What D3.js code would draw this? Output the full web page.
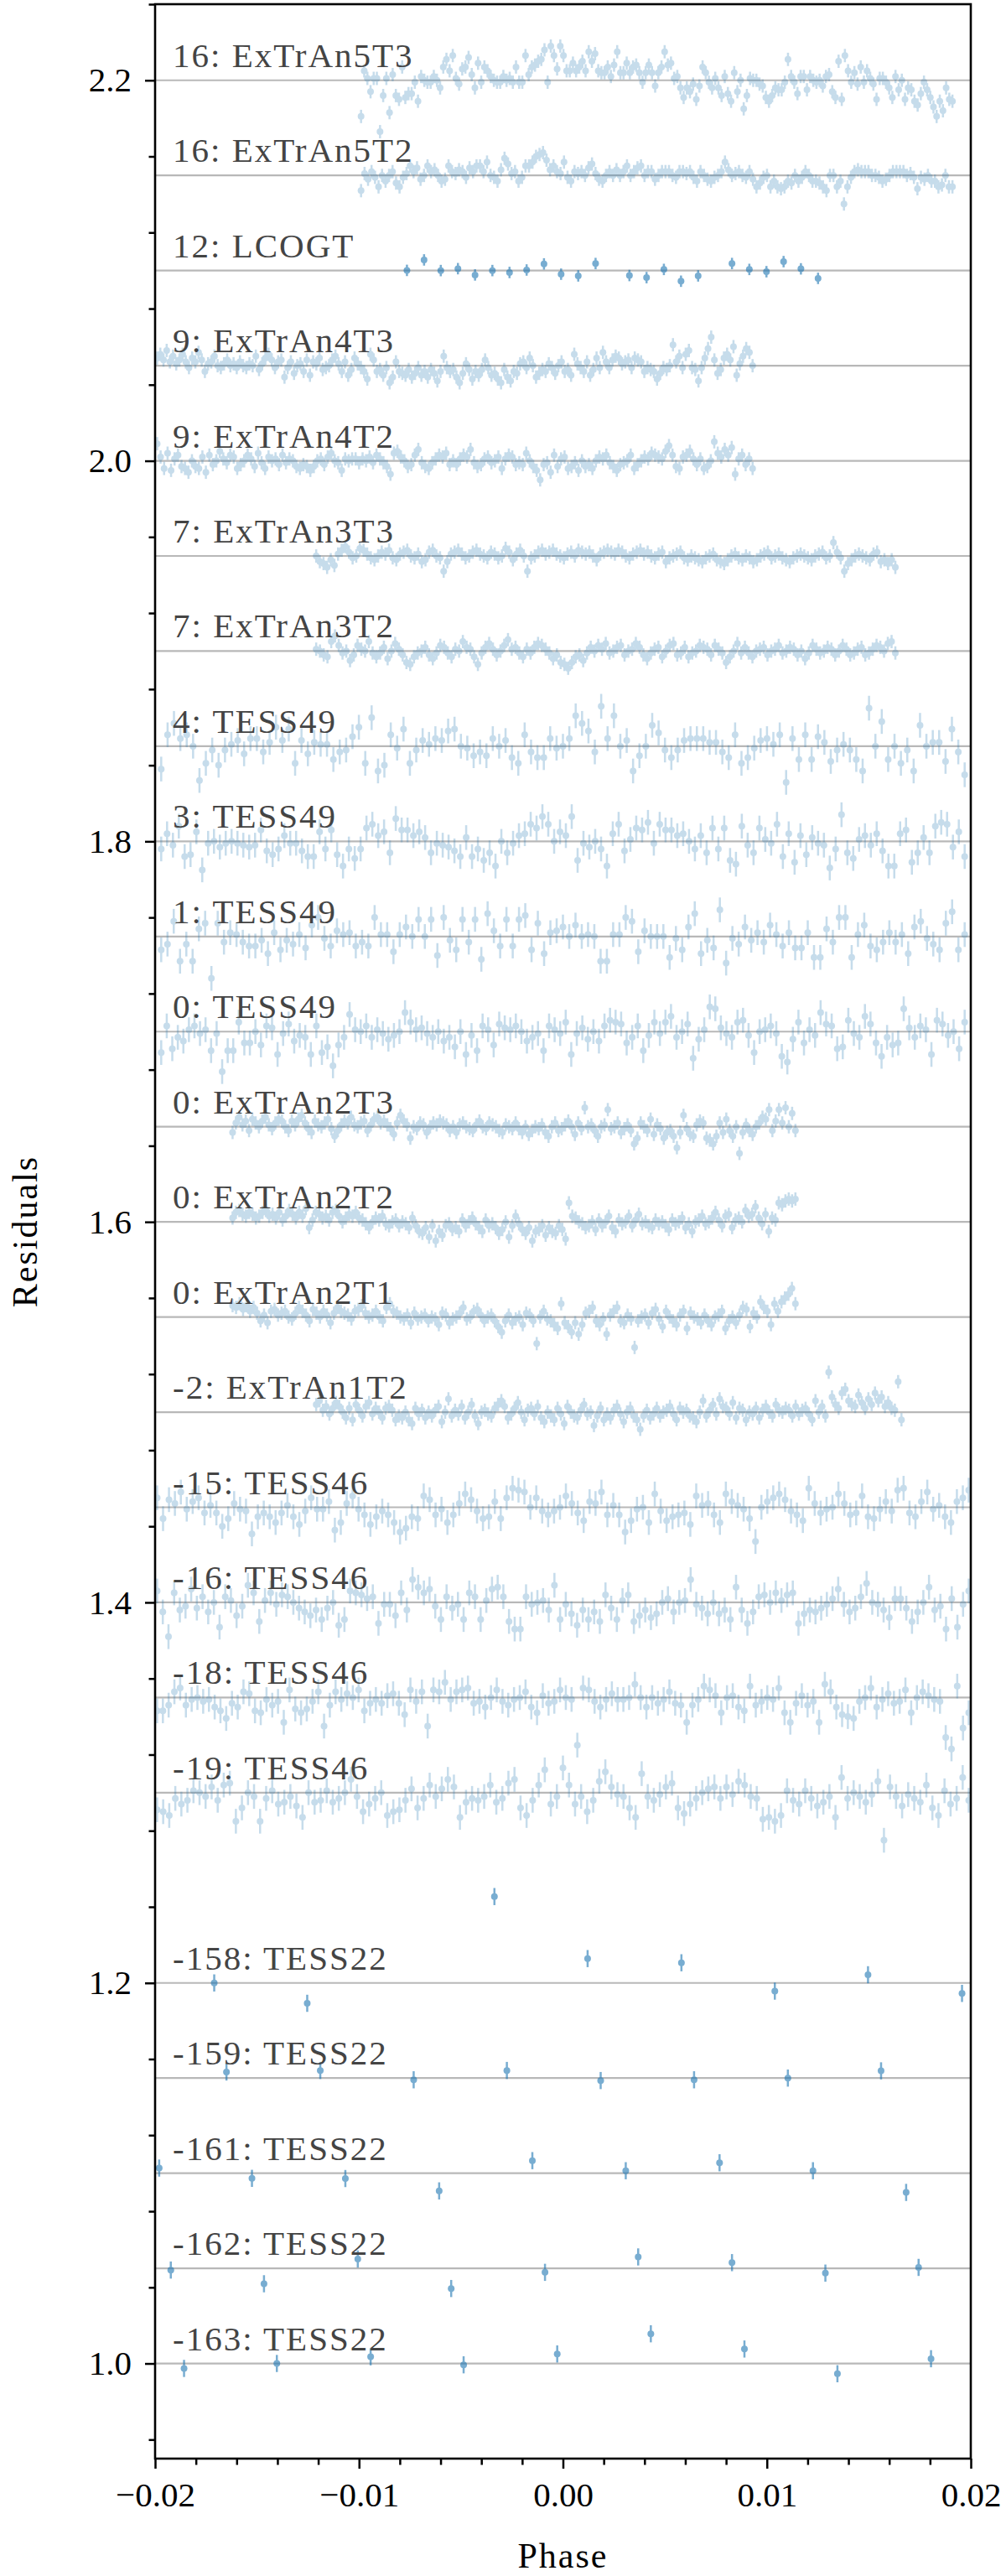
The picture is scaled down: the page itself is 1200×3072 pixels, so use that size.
<!DOCTYPE html>
<html>
<head>
<meta charset="utf-8">
<style>
body { margin: 0; background: #fff; }
</style>
</head>
<body>
<svg width="1200" height="3072"></svg>
<script src="https://cdn.jsdelivr.net/npm/d3@7"></script>
<script>
// one row per light curve, top to bottom; residuals are in units of 1e-3
var seriesLabels = [
  "16: ExTrAn5T3", "16: ExTrAn5T2", "12: LCOGT", "9: ExTrAn4T3", "9: ExTrAn4T2",
  "7: ExTrAn3T3", "7: ExTrAn3T2", "4: TESS49", "3: TESS49", "1: TESS49", "0: TESS49",
  "0: ExTrAn2T3", "0: ExTrAn2T2", "0: ExTrAn2T1", "-2: ExTrAn1T2",
  "-15: TESS46", "-16: TESS46", "-18: TESS46", "-19: TESS46",
  "-158: TESS22", "-159: TESS22", "-161: TESS22", "-162: TESS22", "-163: TESS22"
];
var seriesOffsets = [2.20, 2.15, 2.10, 2.05, 2.00, 1.95, 1.90, 1.85, 1.80, 1.75, 1.70,
  1.65, 1.60, 1.55, 1.50, 1.45, 1.40, 1.35, 1.30, 1.20, 1.15, 1.10, 1.05, 1.00];
// first and last phase of the evenly sampled light curves (null = phases listed below)
var seriesSpans = [[-0.0099, 0.0191], [-0.0099, 0.0191], null, [-0.0199, 0.0093], [-0.0199, 0.0093],
  [-0.0121, 0.0163], [-0.0121, 0.0163], [-0.0197, 0.0197], [-0.0197, 0.0197], [-0.0197, 0.0197], [-0.0197, 0.0197],
  [-0.0162, 0.0114], [-0.0162, 0.0114], [-0.0162, 0.0114], [-0.0121, 0.0166],
  [-0.0199, 0.0199], [-0.0199, 0.0199], [-0.0199, 0.0199], [-0.0199, 0.0199],
  null, null, null, null, null];
var seriesErrors = [3.5, 3.5, 3, 3.5, 3.5, 3.5, 3.5, 6.5, 6.5, 6.5, 6.5,
  3.5, 3.5, 3.5, 3.5, 6.5, 6.5, 6.5, 6.5, 4.5, 4.5, 4.5, 4.5, 4.5];

var resExTrAn5T3 = [-19,5,1,-6,1,1,-27,-8,1,-17,3,-8,-10,7,-9,-7,-7,-1,-11,2,0,-1,-1,2,0,-4,7,11,5,13,1,-2,6,7,12,3,-4,9,-1,7,5,2,0,-1,-1,2,0,1,-1,7,-1,-1,13,3,7,8,10,11,16,-1,18,13,6,18,13,5,5,9,5,7,10,5,15,10,14,5,4,4,7,2,8,15,4,4,9,4,7,8,4,-1,4,8,4,-3,4,7,15,8,9,1,2,-4,-9,-4,-6,-2,-10,-3,7,4,-1,-4,1,-4,-8,2,-7,-11,4,-6,0,-15,-8,1,0,0,-2,-3,-9,-11,-8,-4,-5,-5,-1,11,2,-1,-7,2,2,-5,2,0,-1,0,-3,2,3,-6,-9,10,-10,13,5,-1,4,-2,7,-1,5,1,-2,-10,1,1,-1,-4,-9,2,-5,0,-10,-4,-5,-11,-13,-7,-1,-5,-9,-14,-19,-11,-16,-4,-10,-11];
var resExTrAn5T2 = [-8,1,-2,2,-1,-6,0,-3,0,2,-4,-6,-1,1,5,2,4,-2,0,5,2,3,0,-3,-2,5,2,1,3,2,-1,4,2,5,5,2,7,0,-1,-3,3,9,6,1,2,-3,-1,5,5,7,10,11,12,8,3,5,2,1,7,-1,-3,2,1,2,0,4,6,1,-2,-3,0,2,0,3,0,2,5,0,2,4,5,0,2,2,-2,0,2,2,2,0,-1,2,2,1,2,-1,-3,2,0,-2,-3,-1,0,2,7,3,0,1,2,0,-1,2,-2,-6,-4,-1,0,-6,-3,-6,-7,-6,-3,-4,0,-3,-1,2,0,-3,-3,-4,-6,-8,0,0,-6,-3,-15,-6,-1,2,3,2,2,2,0,0,-1,-3,-2,0,2,2,2,2,0,1,-1,-7,-1,-2,0,-3,-3,-6,-5,0,-6,-6];
var resExTrAn4T3 = [4,6,3,8,2,5,1,3,6,2,-1,4,2,7,3,-3,1,2,5,0,-1,1,3,0,1,-1,2,0,-1,1,0,5,-2,1,4,6,3,-1,2,3,-6,-1,2,-4,0,1,-3,3,-5,2,1,4,-2,-1,0,3,5,1,-3,2,-5,-2,4,1,-1,-3,-7,6,3,-3,-2,-5,-1,-9,-6,2,-3,-4,-5,-2,-6,-4,-1,-5,-3,-6,-2,-4,-8,-3,5,-1,-3,-2,-6,-9,-4,1,-2,-7,-3,-5,-2,3,-1,-5,-4,-7,-9,-2,-6,-8,-3,-4,1,2,-1,4,0,-6,-4,-2,-3,1,-1,-4,0,2,-3,-2,-5,6,1,-1,-3,2,-5,-2,4,-1,7,2,-1,3,5,4,1,2,3,-1,4,3,2,-3,-1,-2,-3,-7,-4,-1,-2,0,11,2,5,-1,6,8,-1,-2,-8,-1,4,9,15,3,-4,-2,4,6,3,10,-5,1,5,9,7,0];
var resExTrAn4T2 = [9,2,-4,4,-5,1,3,-3,-4,-6,0,-3,-4,2,-6,3,-2,0,5,1,-1,3,2,-4,-2,0,3,1,-3,4,-1,-4,2,0,1,-2,3,-1,1,0,-3,-4,-2,-3,-5,-3,0,1,-2,2,4,0,-1,-5,1,0,1,1,-1,1,0,2,-1,3,1,-1,-3,-7,4,5,2,0,-3,-2,3,6,-1,-3,-4,-1,1,3,2,4,-2,0,-2,1,3,2,6,-1,-3,-2,1,2,-1,0,2,-4,1,3,2,-2,-1,-2,4,0,-3,-5,-10,-2,-1,-6,3,-3,1,2,-4,-3,-1,-5,0,-3,-2,-4,0,2,1,3,-1,-3,-5,-2,-1,0,3,-4,-2,0,2,1,4,3,2,1,5,8,3,-3,-4,2,3,5,1,-2,1,-4,-3,0,10,4,2,6,3,7,-7,1,3,-2,1,-4];
var resExTrAn3T3 = [0,-3,-4,-6,-2,-5,1,3,5,2,-1,0,4,3,1,-1,-2,0,2,1,3,-1,-2,1,2,3,0,-1,1,-3,-2,2,3,0,-1,-8,-3,1,2,3,1,-1,0,2,3,1,0,-1,2,1,-1,0,4,2,-2,1,3,0,-8,-1,0,2,3,1,2,3,1,0,-1,1,2,0,3,2,1,2,0,-2,1,2,3,2,1,3,2,0,-1,1,2,3,1,2,0,-1,1,2,-3,-1,0,1,2,-1,-2,0,-1,-2,-3,-1,0,1,-2,-3,-4,-2,0,1,-1,-2,0,-1,-3,-2,0,1,2,-1,0,1,-1,-2,-3,-1,0,1,0,-1,-2,0,1,2,-1,0,7,2,-1,-8,-4,-2,0,1,0,-1,-2,1,2,-3,-2,-4,-2,-6];
var resExTrAn3T2 = [1,0,-2,-3,5,8,3,-1,0,-5,-2,3,1,0,5,-1,-3,-1,2,-4,0,4,1,-2,-6,-7,-3,-1,0,2,-2,-4,-1,3,2,-1,-3,1,0,5,2,1,-3,-7,-1,2,4,1,-2,0,3,6,1,2,-1,-3,1,-1,2,4,3,1,-1,-4,-2,-6,-7,-9,-6,-3,-2,-5,-1,2,0,3,1,4,-1,0,2,3,-2,0,1,4,2,-2,-4,-1,1,2,-3,0,3,4,-2,-1,2,-3,-1,0,3,2,1,-2,3,1,-1,-6,-3,0,4,-1,2,-1,-3,0,1,2,-2,0,1,3,-1,0,2,1,-2,0,-4,-1,3,1,-1,0,2,1,-2,0,3,1,-2,-1,1,2,-2,-1,1,3,2,0,4,5,-1];
var resTess49e4 = [-12,6,12,4,6,0,-18,-9,-2,-10,-2,1,3,-4,4,4,-3,2,10,3,9,-9,3,-4,2,1,1,-7,-3,-2,5,10,-9,15,-13,-10,6,-1,9,-9,-2,3,1,4,3,8,9,0,-1,-5,-3,-5,4,0,3,-6,-9,6,-3,-6,-6,4,-1,0,4,16,12,8,-3,21,4,16,0,3,-13,-5,0,11,7,-2,-6,-2,3,4,4,4,2,2,-3,-6,6,-9,-6,-1,3,4,1,6,-19,4,-7,6,-7,5,2,-8,-2,1,-2,-7,-13,20,0,13,-7,0,-9,-2,-13,11,0,2,2,-8,9,-3,-15];
var resTess49e3 = [-4,4,-2,8,-8,-7,5,-15,-1,0,-3,-1,0,-1,-2,-3,-2,6,-5,-7,-4,3,-1,-1,-5,-8,-8,5,-4,6,-7,-13,-4,-9,-4,7,9,3,5,-6,12,6,6,3,5,2,-6,-1,-2,-3,-5,-8,2,-8,-4,-10,-6,-13,0,-6,-1,3,4,9,7,13,9,0,5,3,13,-10,-1,-3,0,-4,-13,4,9,-5,1,7,6,10,-1,9,6,6,3,4,0,-4,3,-6,7,-4,7,-10,-12,8,-2,-6,7,1,-1,9,-8,4,-11,3,-7,2,-1,-2,-14,-4,14,-6,-9,1,3,-2,4,-5,-13,-13,4,6,-11,-6,2,-6,8,10,9,-3,5,-8];
var resTess49e1 = [-7,-4,8,-13,-4,-13,4,7,-22,7,-3,2,1,-3,-5,-5,-2,-9,2,-7,-2,-4,1,-6,6,10,-1,-5,3,1,2,-5,-3,-5,10,1,1,-8,1,5,0,9,0,9,-10,10,-2,-7,9,-3,9,-12,12,3,-5,9,-5,9,11,-7,7,-9,2,3,5,0,6,0,1,0,-13,-13,1,1,10,8,-8,3,0,0,0,-11,-1,-7,5,12,-9,-2,-6,14,-14,-1,-4,5,-2,2,-3,6,1,-5,2,-6,-6,2,-11,-11,4,-3,10,10,-11,1,6,-5,-7,-3,2,-3,1,-9,5,8,-1,-4,-7,7,13,-7,1];
var resTess49e0 = [-11,3,-9,-3,-5,1,3,-1,1,-10,-1,-21,-10,-10,5,-6,-6,0,-7,3,2,-12,-1,4,-5,-2,-3,-12,3,-11,-8,-18,-7,-3,9,1,0,3,-3,1,-1,-4,-2,0,10,5,1,2,-1,-3,0,-5,-3,-8,0,-12,-2,-10,3,1,-7,4,2,1,3,0,-5,-3,-1,-10,3,1,-1,5,-12,-1,2,-4,0,-5,3,6,5,4,-6,-3,3,-10,-2,5,-1,5,8,-3,0,4,-14,-4,1,13,12,2,-1,-3,5,6,-2,-11,0,1,3,-1,-13,-16,-4,5,-6,1,-2,10,4,3,-9,-8,6,-1,-3,8,4,-6,-13,-3,-7,-6,12,2,-3,3,1,-12,6,4,-2,0,-9,5];
var resExTrAn2T3 = [-3,2,5,1,3,-2,4,2,0,3,5,1,-1,2,4,3,0,-2,3,1,4,6,2,-1,-3,3,1,0,2,4,-1,-5,-2,1,3,2,5,1,0,2,3,-2,1,4,5,2,3,1,-1,-4,2,6,3,1,-6,0,-1,2,1,-3,0,2,1,3,2,1,-2,0,-3,1,2,0,-1,-2,1,3,0,-1,2,1,0,-2,-3,1,0,-1,2,-1,-3,0,-4,-2,0,-1,1,-3,-5,0,2,-2,-1,1,3,0,-4,2,-1,10,0,1,-2,-5,0,1,9,-1,0,2,-3,-1,1,-2,-9,-6,2,0,-2,4,-4,1,-1,-6,-3,-2,-5,-11,-3,6,-1,-4,-5,1,3,2,-6,-7,-9,-5,2,-3,4,-2,-5,0,-14,-3,1,-2,-4,0,2,5,4,9,-2,3,9,2,10,0,7,-2];
var resExTrAn2T2 = [2,5,6,4,3,5,4,2,3,5,6,3,4,2,5,1,3,6,4,2,5,3,7,-3,1,5,4,2,3,1,5,6,3,0,2,4,3,5,2,1,-1,-3,0,2,1,3,-1,-2,0,1,-2,0,-1,-3,2,-2,-5,-6,-3,-8,-2,-10,-5,-7,-2,-1,-4,-3,-5,1,-2,0,2,-1,-3,-5,1,-2,-1,-3,-6,-4,0,-8,-2,3,-1,-4,-6,-3,-10,-5,-4,-2,-7,-3,-5,-6,-2,-4,-9,10,3,2,0,-1,-3,-2,0,-4,1,-2,0,3,-3,-5,1,-1,0,3,-2,1,4,-1,0,-2,-3,1,-1,0,-2,-4,1,-1,0,2,-3,-1,-5,0,1,3,-1,0,2,5,1,-2,3,4,-3,1,2,0,6,3,4,8,2,-1,4,-5,2,1,10,9,11,12,11,12];
var resExTrAn2T1 = [6,5,7,4,6,3,5,2,-2,1,-3,3,4,1,2,3,0,-1,2,5,3,1,-2,4,2,0,3,1,-3,2,5,3,2,1,-1,3,4,6,2,0,1,3,0,-2,5,7,3,2,0,-1,1,-3,2,-1,0,1,-2,0,-1,-4,2,1,-3,-1,0,2,5,-1,0,3,4,1,-2,0,1,-2,-5,-8,-2,1,-3,-1,0,-4,2,1,-2,-14,0,3,-1,-2,-4,-6,7,-3,-5,-8,-3,-9,-4,2,3,5,-2,-4,-1,-9,1,3,5,-2,-3,1,-1,-16,-2,0,1,-3,2,4,-1,-5,3,0,-2,-4,1,3,-6,2,0,-1,-3,1,-2,-4,0,1,3,-6,-2,0,-3,1,5,4,-5,2,0,8,5,3,-4,7,3,8,10,12,15,7];
var resExTrAn1T2 = [4,6,1,3,-1,2,5,3,0,-3,2,-4,4,1,-2,3,5,-1,2,0,-3,2,3,1,-4,-2,-3,0,-4,-6,2,-1,1,-3,0,-2,1,3,-5,0,7,-2,1,-1,3,-3,0,4,-2,-6,0,1,-1,-2,2,4,6,3,-3,-1,2,5,0,-4,1,2,-1,3,-3,-5,0,-2,-4,2,-1,-6,3,0,-2,-3,1,4,-1,0,-7,-2,2,-4,-1,-3,1,3,-1,-5,0,2,-2,-4,-9,-2,1,-3,-1,2,-2,0,1,3,-1,-4,2,0,1,-2,-3,-5,0,6,-2,1,4,-1,7,3,2,-1,5,-3,2,1,-4,0,-1,2,-3,1,3,0,-2,4,1,0,2,1,-2,3,-1,1,2,-1,-4,6,0,3,-2,21,8,4,2,10,12,6,4,3,9,5,2,7,4,10,6,8,3,5,2,1,16,-4];
var resTess46e15 = [5,-6,4,2,8,-1,3,5,-3,1,-3,-10,-6,2,-1,-2,-14,-5,-3,-5,-8,-3,1,-5,-9,-2,5,-1,-1,3,-12,-8,2,6,-1,-4,-9,-5,-2,-4,-8,-13,-11,-5,-6,6,4,-4,-1,-8,-4,2,7,4,-2,-6,-5,3,-6,5,10,9,8,0,5,-2,-4,-2,0,6,2,-3,-7,3,2,8,-4,1,-4,-13,-7,-1,0,-8,7,-2,-7,-5,-4,-3,-9,6,1,2,-4,-8,7,3,1,-1,-6,-18,0,3,5,7,4,-2,-4,-7,10,2,-3,-1,0,7,2,-4,-3,6,-5,-6,-1,3,-2,9,10,-3,-5,3,8,-1,1,-5,-8,3,5,9];
var resTess46e16 = [6,-5,-18,5,-4,-2,7,-3,3,-5,0,-13,3,1,-7,-2,9,5,-10,1,5,-1,4,3,0,-3,-5,-7,-4,-9,-3,0,-12,-9,6,5,4,2,3,-11,-1,-1,-7,5,-4,12,8,5,7,-2,-9,3,-3,-1,-9,5,3,-9,1,7,8,3,-10,-14,-14,3,-1,0,1,-4,9,-9,-1,-6,-12,-4,-9,-5,-10,4,-3,-9,1,4,-10,-7,-4,-8,-6,0,2,-5,0,1,12,-1,-3,-6,0,-6,-4,-9,8,-4,-11,-5,3,4,0,5,1,4,5,-11,-6,-4,-5,-3,-1,2,7,-1,-5,-3,3,10,0,-1,-4,-8,2,2,-3,-10,-5,0,8,-4,-2,-14,2,-13,-1,6];
var resTess46e18 = [-7,-7,-4,3,5,-4,-1,0,-2,-1,-5,-7,-11,-3,-5,3,2,-7,-8,-1,-4,-2,-13,4,-6,-8,-6,-2,3,-15,-4,3,-1,2,0,4,-7,-3,-1,-3,1,2,-3,-9,4,-2,3,-15,4,3,8,-1,3,4,5,-3,-2,-5,0,4,-2,-4,-1,0,3,-5,-8,1,-3,-2,4,0,-1,-25,5,4,-2,-5,-1,2,-1,-1,0,7,0,-5,0,-3,-1,3,-3,-4,-13,-4,-1,6,4,1,-8,0,1,-5,-7,6,-4,-2,0,-1,5,-8,-13,-3,1,-4,-2,-13,7,3,-5,-9,-10,-11,-2,0,5,-5,-1,2,-3,-2,4,-8,0,3,1,-1,-2,-21,-27,6,-16,-8];
var resTess46e19 = [-9,-10,-12,-3,-6,-4,1,0,-2,3,-4,4,5,-15,-8,0,-2,-15,-3,1,-6,-5,-2,-7,-13,0,-5,-4,1,-5,-3,0,7,-2,-10,-6,-3,0,-12,-10,-9,-4,2,-8,-3,4,-2,2,7,3,-13,-5,-3,-4,-2,4,-5,-3,5,7,-8,-12,-4,4,12,-6,-2,13,4,-6,-2,-10,-4,6,11,3,-1,-2,-8,-13,10,-2,-4,-1,3,5,-8,-11,-6,-3,0,2,3,-3,3,-1,6,4,-2,-3,-14,-13,-15,-12,1,-4,-6,1,-3,-7,-5,-2,-13,8,-3,0,-2,-5,-1,6,-25,3,-2,-7,-1,-3,-5,4,-8,-12,1,-6,-3,8,-4];

var lcogtPhase = [-0.00765,-0.00681,-0.00599,-0.00515,-0.00431,-0.00346,-0.00262,-0.00178,-0.00093,-0.00009,0.00075,0.00160,0.00326,0.00410,0.00495,0.00579,0.00663,0.00829,0.00914,0.00998,0.01082,0.01167,0.01251];
var lcogtRes = [0.1,5.6,0,1.0,-2.3,0,-1.0,0.3,3.5,-1.9,-2.8,3.7,-2.6,-3.7,0.6,-5.6,-2.8,3.7,0.6,-0.6,4.7,0.9,-4.1];
var tess22e158Phase = [-0.0171,-0.01254,-0.00336,0.00121,0.00581,0.01039,0.01496,0.01957];
var tess22e158Res = [0,-10.7,45.4,12.8,10.6,-4.3,4.3,-5.5];
var tess22e159Phase = [-0.0165,-0.0119,-0.00732,-0.00275,0.00185,0.00643,0.01103,0.0156];
var tess22e159Res = [3.2,4.0,-0.9,4.0,-1.3,-0.9,0,3.8];
var tess22e161Phase = [-0.0198,-0.01525,-0.01067,-0.00607,-0.0015,0.00308,0.00768,0.01226,0.01683];
var tess22e161Res = [2.7,-2.7,-2.8,-9.3,6.6,1.3,5.5,1.3,-10.1];
var tess22e162Phase = [-0.01923,-0.01466,-0.01006,-0.00548,-0.00088,0.00369,0.00829,0.01287,0.01744];
var tess22e162Res = [-0.9,-8.1,4.9,-10.6,-2.1,6.0,3.0,-2.5,0.5];
var tess22e163Phase = [-0.01858,-0.01403,-0.00943,-0.00487,-0.00028,0.00431,0.0089,0.01346,0.01805];
var tess22e163Res = [-2.6,0,3.5,-0.7,5.0,15.6,7.6,-5.4,2.5];

var seriesResiduals = [resExTrAn5T3, resExTrAn5T2, lcogtRes, resExTrAn4T3, resExTrAn4T2,
  resExTrAn3T3, resExTrAn3T2, resTess49e4, resTess49e3, resTess49e1, resTess49e0,
  resExTrAn2T3, resExTrAn2T2, resExTrAn2T1, resExTrAn1T2,
  resTess46e15, resTess46e16, resTess46e18, resTess46e19,
  tess22e158Res, tess22e159Res, tess22e161Res, tess22e162Res, tess22e163Res];
var seriesPhases = [null, null, lcogtPhase, null, null, null, null, null, null, null, null,
  null, null, null, null, null, null, null, null,
  tess22e158Phase, tess22e159Phase, tess22e161Phase, tess22e162Phase, tess22e163Phase];

var xTicks = [-0.02, -0.01, 0.00, 0.01, 0.02];
var yTicks = [1.0, 1.2, 1.4, 1.6, 1.8, 2.0, 2.2];

var FONT = "'Liberation Serif', 'Times New Roman', serif";

var margin = {top: 5, right: 42, bottom: 140, left: 185};
var width = 1200 - margin.left - margin.right;
var height = 3072 - margin.top - margin.bottom;

var svg = d3.select("svg");
var g = svg.append("g").attr("transform", "translate(" + margin.left + "," + margin.top + ")");

var x = d3.scaleLinear().domain([-0.02, 0.02]).range([0, width]);
var y = d3.scaleLinear().domain([0.95, 2.24]).range([height, 0]);

svg.append("defs").append("clipPath").attr("id", "plot-clip")
  .append("rect").attr("width", width).attr("height", height);

function phasesOf(i) {
  if (seriesPhases[i]) return seriesPhases[i];
  var n = seriesResiduals[i].length, s = seriesSpans[i];
  return seriesResiduals[i].map(function(_, j) { return s[0] + (s[1] - s[0]) * j / (n - 1); });
}

var series = seriesLabels.map(function(label, i) {
  var ph = phasesOf(i);
  return {
    label: label,
    offset: seriesOffsets[i],
    sparse: seriesPhases[i] != null,
    points: seriesResiduals[i].map(function(r, j) {
      return {phase: ph[j], value: seriesOffsets[i] + r / 1000, err: seriesErrors[i] / 1000};
    })
  };
});

// reference lines
g.selectAll(".ref-line").data(series).enter().append("line")
  .attr("class", "ref-line")
  .attr("x1", 0).attr("x2", width)
  .attr("y1", function(d) { return y(d.offset); })
  .attr("y2", function(d) { return y(d.offset); })
  .style("stroke", "#b8b8b8")
  .style("stroke-width", "2.2px");

var plot = g.append("g").attr("clip-path", "url(#plot-clip)");

var rows = plot.selectAll(".series").data(series).enter().append("g")
  .attr("class", "series")
  .attr("opacity", function(d) { return d.sparse ? 0.6 : 0.25; });

rows.selectAll("line.err").data(function(d) { return d.points; }).enter().append("line")
  .attr("class", "err")
  .attr("x1", function(p) { return x(p.phase); })
  .attr("x2", function(p) { return x(p.phase); })
  .attr("y1", function(p) { return y(p.value - p.err); })
  .attr("y2", function(p) { return y(p.value + p.err); })
  .attr("stroke", "#1f77b4")
  .attr("stroke-width", 2.5);

rows.selectAll("circle").data(function(d) { return d.points; }).enter().append("circle")
  .attr("cx", function(p) { return x(p.phase); })
  .attr("cy", function(p) { return y(p.value); })
  .attr("r", 4)
  .attr("fill", "#1f77b4");

// labels
g.selectAll(".series-label").data(series).enter().append("text")
  .attr("class", "series-label")
  .attr("x", 21)
  .attr("y", function(d) { return y(d.offset) - 16; })
  .style("font-family", FONT)
  .style("font-size", "41px")
  .style("letter-spacing", "2px")
  .style("fill", "#444")
  .text(function(d) { return d.label; });

// axes
var xMinor = d3.range(-20, 21, 2).map(function(v) { return v / 1000; })
  .filter(function(v) { return Math.round(v * 1000) % 10 !== 0; });
var yMinor = d3.range(24, 57).map(function(v) { return v * 0.04; })
  .filter(function(v) { return Math.round(v * 100) % 20 !== 0; });

g.append("g").attr("class", "axis")
  .attr("transform", "translate(0," + height + ")")
  .call(d3.axisBottom(x).tickValues(xTicks).tickFormat(d3.format(".2f")).tickSize(12).tickPadding(16));
g.append("g").attr("class", "axis minor")
  .attr("transform", "translate(0," + height + ")")
  .call(d3.axisBottom(x).tickValues(xMinor).tickFormat("").tickSize(7.5));
g.append("g").attr("class", "axis")
  .call(d3.axisLeft(y).tickValues(yTicks).tickFormat(d3.format(".1f")).tickSize(12).tickPadding(16));
g.append("g").attr("class", "axis minor")
  .call(d3.axisLeft(y).tickValues(yMinor).tickFormat("").tickSize(7.5));

g.selectAll(".axis .domain").remove();
g.selectAll(".axis .tick line").attr("stroke", "#000").attr("stroke-width", 2.5);
g.selectAll(".axis .tick text")
  .style("font-family", FONT)
  .style("font-size", "41px")
  .style("fill", "#000");

g.append("rect")
  .attr("width", width).attr("height", height)
  .attr("fill", "none").attr("stroke", "#000").attr("stroke-width", 2.6);

svg.append("text")
  .attr("x", margin.left + width / 2)
  .attr("y", 3062)
  .attr("text-anchor", "middle")
  .style("font-family", FONT)
  .style("font-size", "42px")
  .style("letter-spacing", "2px")
  .text("Phase");

svg.append("text")
  .attr("transform", "translate(44," + (margin.top + height / 2) + ") rotate(-90)")
  .attr("text-anchor", "middle")
  .style("font-family", FONT)
  .style("font-size", "42px")
  .style("letter-spacing", "2px")
  .text("Residuals");
</script>
</body>
</html>
